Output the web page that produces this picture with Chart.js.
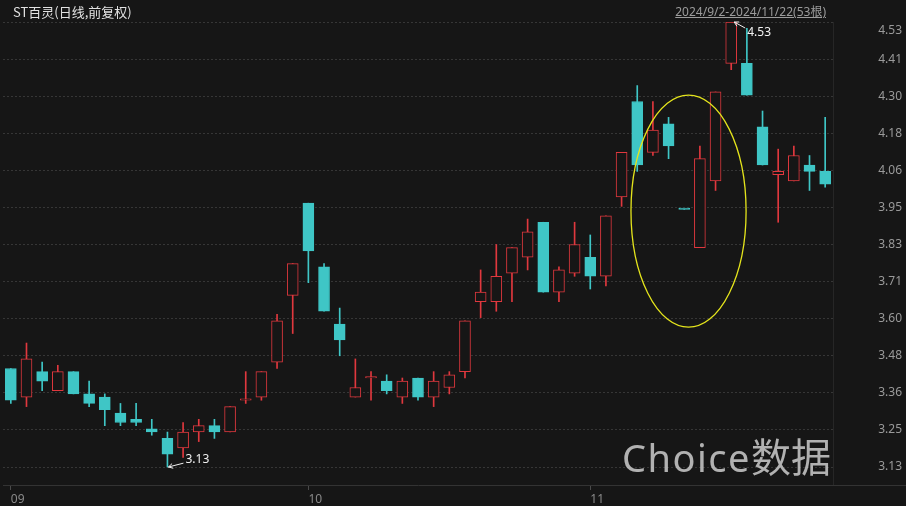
<!DOCTYPE html>
<html>
<head>
<meta charset="utf-8">
<script src="https://cdn.jsdelivr.net/npm/chart.js@4.4.1/dist/chart.umd.min.js"></script>
<style>
  html, body { margin: 0; padding: 0; background: #161616; }
  #wrap { position: relative; width: 906px; height: 506px; overflow: hidden; }
  #title { position: absolute; left: 13px; top: 2px; font-size: 13px; color: #e2e2e2;
    font-family: "Noto Sans CJK SC", sans-serif; white-space: nowrap; }
  #range { position: absolute; right: 80px; top: 2px; font-size: 12px; color: #9c9c9c;
    font-family: "Noto Sans", "Noto Sans CJK SC", sans-serif; text-decoration: underline; white-space: nowrap; }
  #brand { position: absolute; left: 622px; top: 426px; color: rgba(205, 205, 205, 0.85);
    font-family: "Noto Sans", "Noto Sans CJK SC", sans-serif; white-space: nowrap; pointer-events: none; }
  #brand .en { font-size: 38px; letter-spacing: 1.5px; }
  #brand .zh { font-size: 40px; font-family: "Noto Sans CJK SC", sans-serif; }
</style>
</head>
<body>
<div id="wrap">
  <canvas id="kline"></canvas>
  <div id="title">ST百灵(日线,前复权)</div>
  <div id="range">2024/9/2-2024/11/22(53根)</div>
  <div id="brand"><span class="en">Choice</span><span class="zh">数据</span></div>
</div>
<script>
// trading days 2024/9/2 - 2024/11/22
const dates = [
  '2024-09-02','2024-09-03','2024-09-04','2024-09-05','2024-09-06','2024-09-09','2024-09-10',
  '2024-09-11','2024-09-12','2024-09-13','2024-09-18','2024-09-19','2024-09-20','2024-09-23',
  '2024-09-24','2024-09-25','2024-09-26','2024-09-27','2024-09-30',
  '2024-10-08','2024-10-09','2024-10-10','2024-10-11','2024-10-14','2024-10-15','2024-10-16',
  '2024-10-17','2024-10-18','2024-10-21','2024-10-22','2024-10-23','2024-10-24','2024-10-25',
  '2024-10-28','2024-10-29','2024-10-30','2024-10-31',
  '2024-11-01','2024-11-04','2024-11-05','2024-11-06','2024-11-07','2024-11-08','2024-11-11',
  '2024-11-12','2024-11-13','2024-11-14','2024-11-15','2024-11-18','2024-11-19','2024-11-20',
  '2024-11-21','2024-11-22'
];
const opens = [
  3.44, 3.35, 3.43, 3.37, 3.43, 3.36, 3.35, 3.30, 3.28, 3.25, 3.22, 3.19, 3.24, 3.26,
  3.24, 3.34, 3.35, 3.46, 3.67,
  3.96, 3.76, 3.58, 3.35, 3.41, 3.40, 3.35, 3.41, 3.35, 3.38, 3.43, 3.65, 3.65, 3.74,
  3.79, 3.90, 3.68, 3.74,
  3.79, 3.73, 3.98, 4.28, 4.12, 4.21, 3.94, 3.82, 4.03, 4.40, 4.40, 4.20, 4.05, 4.03,
  4.08, 4.06
];
const highs = [
  3.44, 3.52, 3.46, 3.45, 3.43, 3.40, 3.36, 3.33, 3.33, 3.28, 3.24, 3.27, 3.28, 3.28,
  3.32, 3.43, 3.43, 3.61, 3.77,
  3.96, 3.77, 3.63, 3.47, 3.43, 3.42, 3.41, 3.41, 3.43, 3.43, 3.59, 3.75, 3.83, 3.82,
  3.91, 3.90, 3.76, 3.90,
  3.86, 3.92, 4.12, 4.33, 4.28, 4.23, 3.94, 4.14, 4.31, 4.53, 4.51, 4.25, 4.13, 4.14,
  4.11, 4.23
];
const lows = [
  3.33, 3.32, 3.37, 3.37, 3.36, 3.32, 3.26, 3.26, 3.26, 3.23, 3.13, 3.16, 3.21, 3.22,
  3.24, 3.33, 3.34, 3.44, 3.55,
  3.71, 3.62, 3.48, 3.35, 3.34, 3.36, 3.33, 3.34, 3.32, 3.36, 3.41, 3.60, 3.62, 3.65,
  3.75, 3.68, 3.65, 3.73,
  3.69, 3.70, 3.95, 4.06, 4.11, 4.10, 3.94, 3.82, 4.00, 4.38, 4.30, 4.08, 3.90, 4.03,
  4.00, 4.01
];
const closes = [
  3.34, 3.47, 3.40, 3.43, 3.36, 3.33, 3.31, 3.27, 3.27, 3.24, 3.17, 3.24, 3.26, 3.24,
  3.32, 3.34, 3.43, 3.59, 3.77,
  3.81, 3.62, 3.53, 3.38, 3.41, 3.37, 3.40, 3.35, 3.40, 3.42, 3.59, 3.68, 3.73, 3.82,
  3.87, 3.68, 3.75, 3.83,
  3.73, 3.92, 4.12, 4.08, 4.19, 4.14, 3.94, 4.10, 4.31, 4.53, 4.30, 4.08, 4.06, 4.11,
  4.06, 4.02
];
const yTickLabels = ['3.13','3.25','3.36','3.48','3.60','3.71','3.83','3.95','4.06','4.18','4.30','4.41','4.53'];
const yLow = 3.13, yHigh = 4.53;
// the circled stretch of days (category index) and prices
const circle = { from: 39.6, to: 46.95, top: 4.30, bottom: 3.57 };

const RED = '#e0383e', CYAN = '#3fc6c6', BG = '#161616';

// flat candles take the colour of the move against the previous close
const isUp = closes.map((c, i) =>
  c > opens[i] || (c === opens[i] && (i === 0 || c >= closes[i - 1])));
const candleColor = isUp.map(u => u ? RED : CYAN);
const monthStart = i => i === 0 || dates[i].slice(5, 7) !== dates[i - 1].slice(5, 7);

const tickStep = (yHigh - yLow) / (yTickLabels.length - 1);

function callout(ctx, ax, ay, dx, dy, text) {
  const sx = ax + dx - 2, sy = ay + dy * 0.55;
  const ang = Math.atan2(sy - ay, sx - ax);
  ctx.strokeStyle = '#f2f2f2';
  ctx.lineWidth = 1;
  ctx.beginPath();
  ctx.moveTo(sx, sy);
  ctx.lineTo(ax, ay);
  ctx.moveTo(ax + 5 * Math.cos(ang + 0.5), ay + 5 * Math.sin(ang + 0.5));
  ctx.lineTo(ax, ay);
  ctx.lineTo(ax + 5 * Math.cos(ang - 0.5), ay + 5 * Math.sin(ang - 0.5));
  ctx.stroke();
  ctx.fillStyle = '#f2f2f2';
  ctx.font = '12px "Noto Sans", sans-serif';
  ctx.textAlign = 'left';
  ctx.textBaseline = 'middle';
  ctx.fillText(text, ax + dx, ay + dy);
}

const marksPlugin = {
  id: 'marks',
  afterDraw(chart) {
    const { ctx, chartArea, scales: { x, y } } = chart;
    ctx.save();
    // separator above the date row runs the full width
    ctx.strokeStyle = '#333333';
    ctx.lineWidth = 1;
    ctx.beginPath();
    ctx.moveTo(chartArea.right, chartArea.bottom + 0.5);
    ctx.lineTo(chart.width, chartArea.bottom + 0.5);
    ctx.stroke();

    // top price label sits a bit lower so it stays inside the panel
    ctx.font = '12px "Noto Sans", sans-serif';
    ctx.fillStyle = '#9a9a9a';
    ctx.textAlign = 'right';
    ctx.textBaseline = 'middle';
    ctx.fillText(yTickLabels[yTickLabels.length - 1], y.right, chartArea.top + 9);

    // yellow ring
    const l = x.getPixelForValue(circle.from), r = x.getPixelForValue(circle.to);
    const t = y.getPixelForValue(circle.top), b = y.getPixelForValue(circle.bottom);
    ctx.strokeStyle = '#e4e41c';
    ctx.lineWidth = 1.3;
    ctx.beginPath();
    ctx.ellipse((l + r) / 2, (t + b) / 2, (r - l) / 2, (b - t) / 2, 0, 0, Math.PI * 2);
    ctx.stroke();

    // highest high / lowest low
    const hi = highs.indexOf(Math.max(...highs));
    const lo = lows.indexOf(Math.min(...lows));
    callout(ctx, x.getPixelForValue(hi) + 3, y.getPixelForValue(highs[hi]), 13, 11, highs[hi].toFixed(2));
    callout(ctx, x.getPixelForValue(lo) + 1, y.getPixelForValue(lows[lo]), 17, -7, lows[lo].toFixed(2));
    ctx.restore();
  }
};

Chart.defaults.font.family = '"Noto Sans", "Noto Sans CJK SC", sans-serif';

new Chart(document.getElementById('kline'), {
  type: 'bar',
  data: {
    labels: dates,
    datasets: [
      {
        label: 'body',
        data: dates.map((d, i) => [opens[i], closes[i]]),
        backgroundColor: isUp.map(u => u ? BG : CYAN),
        borderColor: candleColor,
        borderWidth: 1,
        borderSkipped: false,
        barThickness: 11,
        minBarLength: 1.5,
        grouped: false,
        order: 0
      },
      {
        label: 'wick',
        data: dates.map((d, i) => [lows[i], highs[i]]),
        backgroundColor: candleColor,
        borderWidth: 0,
        barThickness: 1,
        grouped: false,
        order: 1
      }
    ]
  },
  options: {
    responsive: true,
    maintainAspectRatio: false,
    animation: false,
    layout: { padding: { left: 3, right: 4, top: 22, bottom: 0 } },
    plugins: {
      legend: { display: false },
      tooltip: { enabled: false }
    },
    scales: {
      x: {
        type: 'category',
        offset: true,
        grid: {
          offset: false,
          drawOnChartArea: false,
          tickLength: 5,
          color: ctx => monthStart(ctx.index) ? '#4a4a4a' : 'rgba(0,0,0,0)'
        },
        border: { color: '#333333' },
        ticks: {
          autoSkip: false,
          maxRotation: 0,
          align: 'start',
          padding: 2,
          color: '#8a8a8a',
          font: { size: 12 },
          callback: (v, i) => monthStart(i) ? dates[i].slice(5, 7) : ''
        },
        afterFit: s => { s.height = 21; }
      },
      y: {
        position: 'right',
        min: yLow - 0.0566,   // room under the lowest line, as in the source
        max: yHigh,
        afterBuildTicks: s => {
          s.ticks = yTickLabels.map((t, i) => ({ value: yLow + i * tickStep }));
        },
        grid: { color: '#363636', drawTicks: false },
        border: { color: '#262626', dash: [2, 2] },
        ticks: {
          crossAlign: 'far',
          color: '#9a9a9a',
          font: { size: 12 },
          callback: (v, i) => i === yTickLabels.length - 1 ? '' : yTickLabels[i]
        },
        afterFit: s => { s.width = 69; }
      }
    }
  },
  plugins: [marksPlugin]
});
</script>
</body>
</html>
